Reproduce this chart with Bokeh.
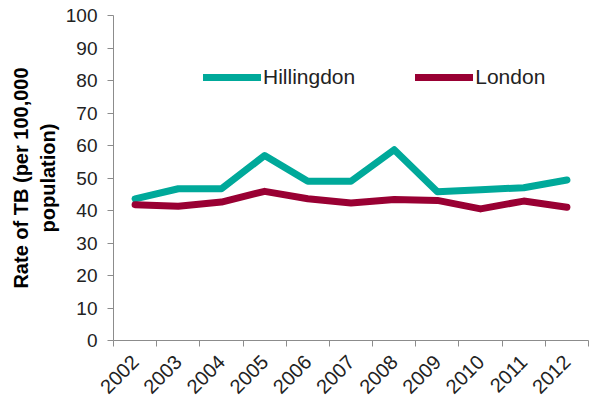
import math

from bokeh.embed import file_html
from bokeh.resources import INLINE
from bokeh.plotting import figure
from bokeh.models import (Range1d, FixedTicker, Legend, LegendItem)

# TB notification rates, per 100,000 population
years = ["2002", "2003", "2004", "2005", "2006", "2007",
         "2008", "2009", "2010", "2011", "2012"]
hillingdon = [43.6, 46.7, 46.7, 56.9, 49.0, 49.0, 58.7, 45.8, 46.4, 47.0, 49.4]
london = [41.8, 41.3, 42.6, 45.9, 43.6, 42.3, 43.4, 43.1, 40.5, 42.9, 41.0]
y_ticks = [0, 10, 20, 30, 40, 50, 60, 70, 80, 90, 100]

TEAL = "#00A99A"
CRIMSON = "#990033"
AXIS_GREY = "#8C8C8C"
TEXT = "#222222"
FONT = "Liberation Sans"

# each year sits in the middle of its own unit-wide slot
centres = [i + 0.5 for i in range(len(years))]
edges = list(range(len(years) + 1))

FRAME_LEFT, FRAME_BOTTOM = 113, 340

p = figure(width=613, height=402, output_backend="svg", toolbar_location=None,
           x_range=Range1d(0, len(years)), y_range=Range1d(0, 100),
           min_border_left=FRAME_LEFT, min_border_right=25,
           min_border_top=15, min_border_bottom=402 - FRAME_BOTTOM)
p.outline_line_color = None
p.xgrid.visible = False
p.ygrid.visible = False
p.background_fill_color = "white"
p.border_fill_color = "white"

r_hil = p.line(centres, hillingdon, line_color=TEAL, line_width=7,
               line_join="round", line_cap="round")
r_lon = p.line(centres, london, line_color=CRIMSON, line_width=7,
               line_join="round", line_cap="round")

# x axis: labels at slot centres, tick marks on slot edges
xa = p.xaxis[0]
xa.ticker = FixedTicker(ticks=centres, minor_ticks=edges)
xa.major_label_overrides = {c: y for c, y in zip(centres, years)}
xa.major_label_orientation = math.pi / 4
xa.major_tick_line_color = None
xa.minor_tick_line_color = AXIS_GREY
xa.minor_tick_in = 0
xa.minor_tick_out = 6
xa.axis_line_color = AXIS_GREY
xa.major_label_text_font = FONT
xa.major_label_text_font_size = "20px"
xa.major_label_text_color = TEXT
xa.major_label_standoff = 12

ya = p.yaxis[0]
ya.ticker = FixedTicker(ticks=y_ticks, minor_ticks=[])
ya.major_tick_line_color = AXIS_GREY
ya.major_tick_in = 0
ya.major_tick_out = 6
ya.axis_line_color = AXIS_GREY
ya.major_label_text_font = FONT
ya.major_label_text_font_size = "19px"
ya.major_label_text_color = TEXT
ya.major_label_standoff = 10
ya.axis_label = "Rate of TB (per 100,000\npopulation)"
ya.axis_label_text_font = FONT
ya.axis_label_text_font_size = "20px"
ya.axis_label_text_font_style = "bold"
ya.axis_label_text_color = "black"
ya.axis_label_standoff = 4

legend = Legend(items=[LegendItem(label="Hillingdon", renderers=[r_hil]),
                       LegendItem(label="London", renderers=[r_lon])],
                orientation="horizontal", location=(90, 251),
                glyph_width=58, glyph_height=20, label_height=20,
                label_standoff=2, spacing=60, padding=0, margin=0,
                border_line_color=None, background_fill_alpha=0,
                label_text_font=FONT, label_text_font_size="21px",
                label_text_color=TEXT)
p.add_layout(legend)

open("out.html", "w").write(file_html(p, INLINE))
